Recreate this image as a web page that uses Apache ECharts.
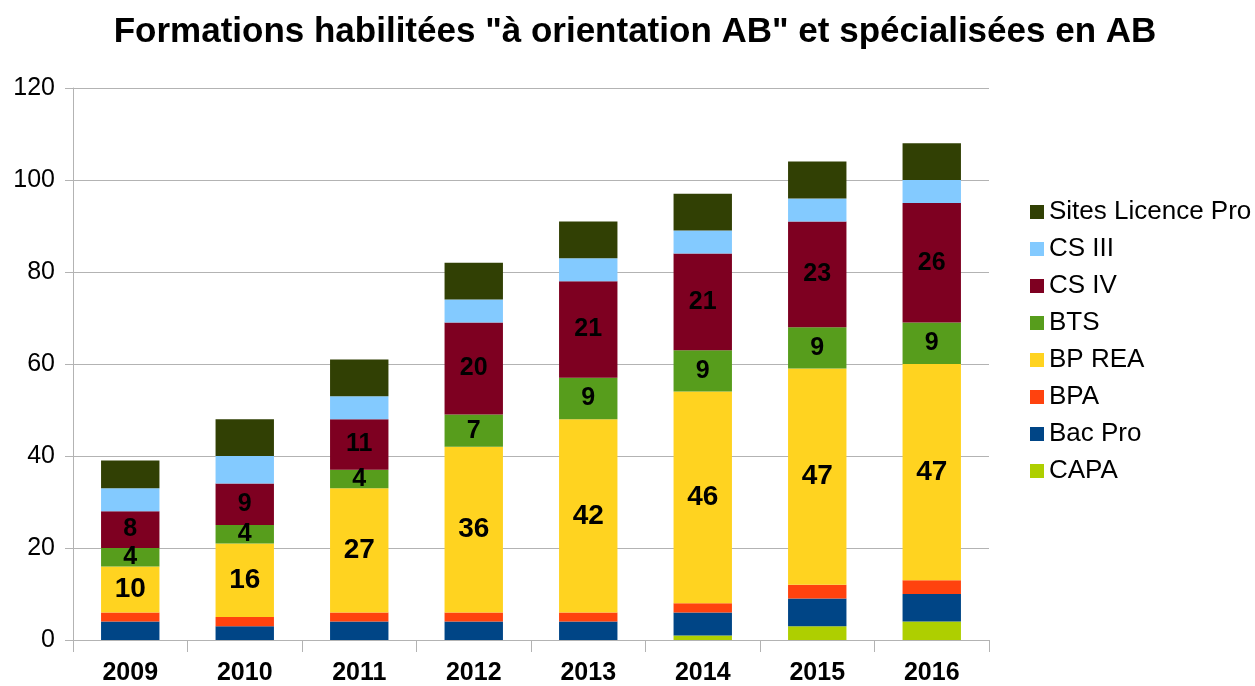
<!DOCTYPE html>
<html>
<head>
<meta charset="utf-8">
<script src="https://cdn.jsdelivr.net/npm/echarts@6/dist/echarts.min.js"></script>
<style>
  html, body { margin: 0; padding: 0; background: #fff; }
  #chart { width: 1255px; height: 686px; }
</style>
</head>
<body>
<div id="chart"></div>
<script>
var years = ["2009", "2010", "2011", "2012", "2013", "2014", "2015", "2016"];
var capa = [0, 0, 0, 0, 0, 1, 3, 4];
var bacPro = [4, 3, 4, 4, 4, 5, 6, 6];
var bpa = [2, 2, 2, 2, 2, 2, 3, 3];
var bpRea = [10, 16, 27, 36, 42, 46, 47, 47];
var bts = [4, 4, 4, 7, 9, 9, 9, 9];
var csIV = [8, 9, 11, 20, 21, 21, 23, 26];
var csIII = [5, 6, 5, 5, 5, 5, 5, 5];
var sitesLP = [6, 8, 8, 8, 8, 8, 8, 8];
var yTicks = [0, 20, 40, 60, 80, 100, 120];

var font = "'Liberation Sans', Arial, sans-serif";

function makeSeries(name, data, color, labelSize) {
  var s = {
    name: name,
    type: "bar",
    stack: "total",
    barWidth: "51%",
    data: data,
    itemStyle: { color: color },
    label: { show: false }
  };
  if (labelSize) {
    s.label = {
      show: true,
      position: "inside",
      color: "#000",
      fontFamily: font,
      fontWeight: "bold",
      fontSize: labelSize
    };
  }
  return s;
}

var chart = echarts.init(document.getElementById("chart"));
var option = {
  animation: false,
  title: {
    text: 'Formations habilitées "à orientation AB" et spécialisées en AB',
    left: 630,
    top: 10,
    textAlign: "center",
    textStyle: { fontFamily: font, fontWeight: "bold", fontSize: 35, color: "#000" }
  },
  legend: {
    orient: "vertical",
    left: 1025,
    top: 194,
    itemWidth: 14,
    itemHeight: 14,
    itemGap: 11,
    icon: "rect",
    textStyle: { fontFamily: font, fontSize: 26, color: "#000", lineHeight: 26, padding: [0, 0, 0, 0] },
    data: ["Sites Licence Pro", "CS III", "CS IV", "BTS", "BP REA", "BPA", "Bac Pro", "CAPA"]
  },
  grid: { left: 73, right: 266, top: 88, bottom: 45 },
  xAxis: {
    type: "category",
    data: years,
    axisLine: { lineStyle: { color: "#b3b3b3", width: 1 } },
    axisTick: { show: true, length: 12, alignWithLabel: false, lineStyle: { color: "#b3b3b3" } },
    axisLabel: { fontFamily: font, fontWeight: "bold", fontSize: 25, color: "#000", margin: 21 }
  },
  yAxis: {
    type: "value",
    min: yTicks[0],
    max: yTicks[yTicks.length - 1],
    interval: 20,
    axisLine: { show: true, lineStyle: { color: "#b3b3b3" } },
    axisTick: { show: true, length: 8, lineStyle: { color: "#b3b3b3" } },
    splitLine: { lineStyle: { color: "#b3b3b3" } },
    axisLabel: { fontFamily: font, fontSize: 25, color: "#000", margin: 18 }
  },
  series: [
    makeSeries("CAPA", capa, "#aecf00"),
    makeSeries("Bac Pro", bacPro, "#004586"),
    makeSeries("BPA", bpa, "#ff420e"),
    makeSeries("BP REA", bpRea, "#ffd320", 28),
    makeSeries("BTS", bts, "#579d1c", 25),
    makeSeries("CS IV", csIV, "#7e0021", 25),
    makeSeries("CS III", csIII, "#83caff"),
    makeSeries("Sites Licence Pro", sitesLP, "#314004")
  ]
};
chart.setOption(option);
</script>
</body>
</html>
